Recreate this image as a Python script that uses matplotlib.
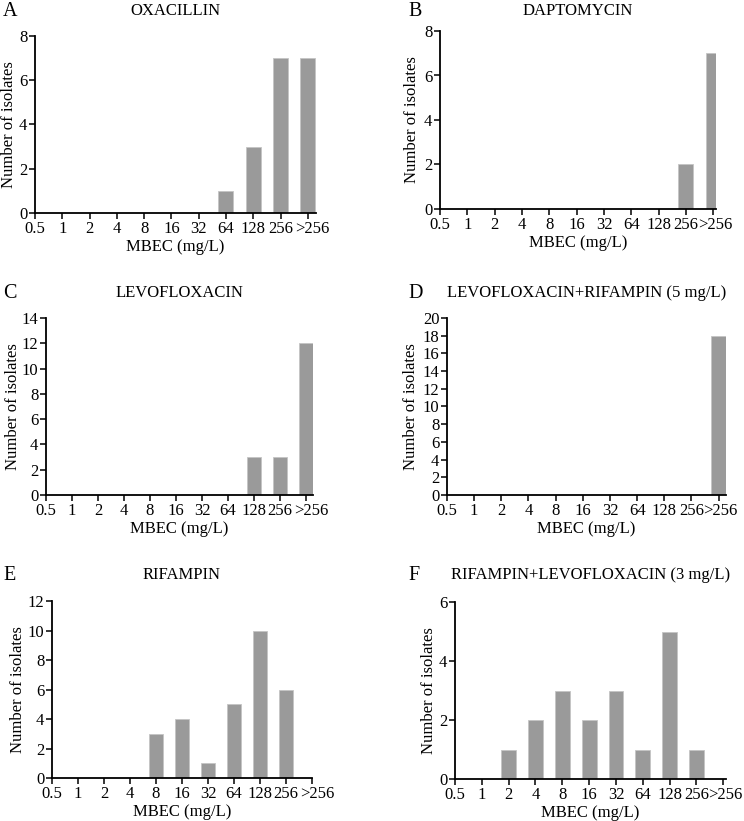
import numpy as np
import matplotlib
matplotlib.use("Agg")
import matplotlib.pyplot as plt
from matplotlib.transforms import ScaledTranslation

plt.rcParams['font.family'] = ['Liberation Serif', 'DejaVu Serif']

mbec = ["0.5", "1", "2", "4", "8", "16", "32", "64", "128", "256", ">256"]

oxacillin = [0, 0, 0, 0, 0, 0, 0, 1, 3, 7, 7]
daptomycin = [0, 0, 0, 0, 0, 0, 0, 0, 0, 2, 7]
levofloxacin = [0, 0, 0, 0, 0, 0, 0, 0, 3, 3, 12]
levo_rif = [0, 0, 0, 0, 0, 0, 0, 0, 0, 0, 18]
rifampin = [0, 0, 0, 0, 3, 4, 1, 5, 10, 6, 0]
rif_levo = [0, 0, 1, 2, 3, 2, 3, 1, 5, 1, 0]

letters = ["A", "B", "C", "D", "E", "F"]
titles = ["OXACILLIN", "DAPTOMYCIN", "LEVOFLOXACIN",
          "LEVOFLOXACIN+RIFAMPIN (5 mg/L)", "RIFAMPIN",
          "RIFAMPIN+LEVOFLOXACIN (3 mg/L)"]
series = [oxacillin, daptomycin, levofloxacin, levo_rif, rifampin, rif_levo]
ymax = [8, 8, 14, 20, 12, 6]

W, H = 744, 821
fig = plt.figure(figsize=(W / 100, H / 100), dpi=100)

# pixel boxes: left, right, top, bottom, xlim right, letter x, ylabel x, title y
boxes = [
    (35, 316, 36, 213, 10.3, 3, 9, 11),
    (440, 716, 31, 209, 10.1, 408, 412, 11),
    (46, 313, 318, 495, 10.27, 3, 13, 293),
    (447, 726, 318, 495, 10.27, 408, 411, 293),
    (52, 312, 601, 778, 10.0, 3, 18, 575),
    (455, 726, 602, 779, 10.1, 408, 429, 575),
]

fs = 12
x = np.arange(len(mbec))
for i, (l, r, t, b, xr, lx, ylx, ty) in enumerate(boxes):
    ax = fig.add_axes([l / W, 1 - b / H, (r - l) / W, (b - t) / H])
    ax.bar(x, series[i], width=0.55, color='#9a9a9a', edgecolor='#c4c4c4',
           linewidth=0.6, zorder=3)
    ax.set_xlim(0, xr)
    ax.set_ylim(0, ymax[i])
    ax.set_yticks(np.arange(0, ymax[i] + 1, 2))
    ax.set_xticks(x)
    ax.set_xticklabels(mbec)
    for s in ['top', 'right']:
        ax.spines[s].set_visible(False)
    for s in ['left', 'bottom']:
        ax.spines[s].set_linewidth(1.3)
        ax.spines[s].set_zorder(4)
    ax.tick_params(axis='both', direction='out', length=4, width=1.1,
                   labelsize=fs, pad=1.5, colors='black')
    # nudge the crowded last label a little to the right
    shift = 3.5 if i % 2 == 0 else 1.5
    lab = ax.get_xticklabels()[-1]
    lab.set_transform(lab.get_transform() +
                      ScaledTranslation(shift / 72, 0, fig.dpi_scale_trans))
    ax.set_xlabel("MBEC (mg/L)", fontsize=fs, labelpad=2)
    cx = (l + r) / 2
    fig.text(cx / W, 1 - ty / H, titles[i], ha='center', va='center',
             fontsize=fs)
    fig.text(lx / W, 1 - ty / H, letters[i], ha='left', va='center',
             fontsize=14.5)
    fig.text(ylx / W, 1 - ((t + b) / 2) / H, "Number of isolates",
             rotation=90, ha='center', va='center', fontsize=fs)

fig.savefig("out.png", dpi=100)
